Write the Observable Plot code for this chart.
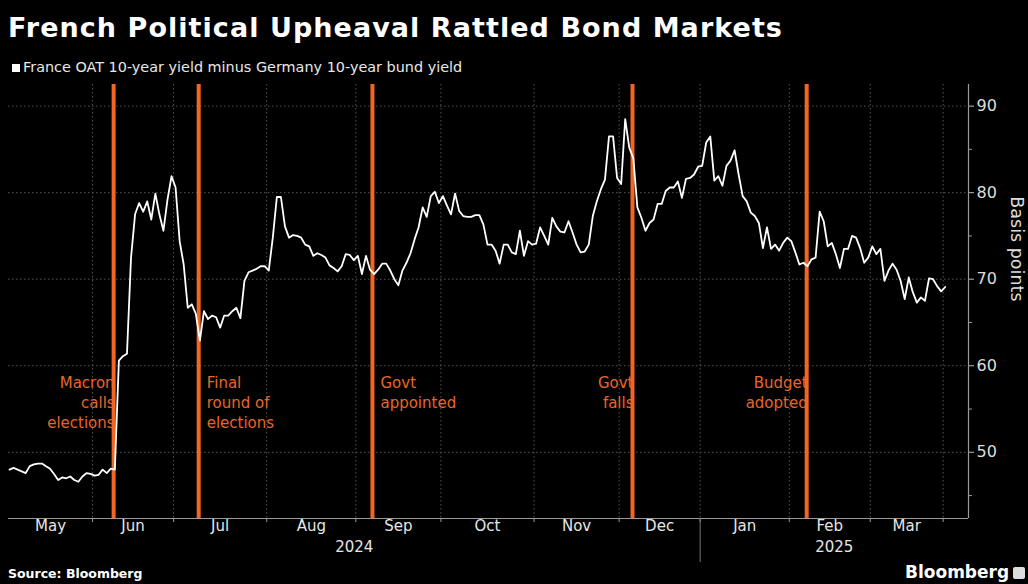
<!DOCTYPE html>
<html>
<head>
<meta charset="utf-8">
<script src="https://cdn.jsdelivr.net/npm/d3@7"></script>
<script src="https://cdn.jsdelivr.net/npm/@observablehq/plot@0.6"></script>
<style>
  html, body { margin: 0; padding: 0; background: #000; }
  body { width: 1028px; height: 584px; overflow: hidden; position: relative; font-family: "DejaVu Sans", sans-serif; color: #fff; }
  #title { position: absolute; left: 8px; top: 14px; font-size: 27px; line-height: 27px; font-weight: bold; letter-spacing: 1.05px; white-space: nowrap; }
  #legend { position: absolute; left: 12px; top: 59px; font-size: 14.4px; line-height: 17px; color: #e8e8e8; white-space: nowrap; }
  #legend .sw { display: inline-block; width: 8px; height: 8px; background: #fff; margin-right: 3px; vertical-align: 0px; }
  #chart { position: absolute; left: 0; top: 80px; }
  #source { position: absolute; left: 8px; top: 566px; font-size: 12.5px; line-height: 16px; font-weight: bold; color: #fff; }
  #logo { position: absolute; left: 905px; top: 562px; font-size: 17px; line-height: 20px; font-weight: bold; color: #fff; white-space: nowrap; }
  #logo .ic { display: inline-block; width: 12px; height: 12px; background: #ddd; border-radius: 2px; margin-left: 4px; vertical-align: -1px; }
</style>
</head>
<body>
<div id="title">French Political Upheaval Rattled Bond Markets</div>
<div id="legend"><span class="sw"></span>France OAT 10-year yield minus Germany 10-year bund yield</div>
<div id="chart"></div>
<div id="source">Source: Bloomberg</div>
<div id="logo">Bloomberg<span class="ic"></span></div>
<script>
// Spread (basis points), one value per trading day, grouped by month
const may24 = [48.0,48.2,48.0,47.8,47.6,48.4,48.6,48.7,48.7,48.4,48.1,47.5,46.8,47.1,47.0,47.2,46.8,46.6,47.2,47.6,47.5];
const jun24 = [47.3,47.4,48.0,47.6,48.1,48.0,60.6,61.1,61.4,72.5,77.5,78.8,77.8,79.0,76.9,79.9,77.5,75.6,79.2,81.9];
const jul24 = [80.6,74.4,71.7,66.7,67.1,66.0,62.9,66.3,65.4,65.8,65.6,64.4,65.8,65.8,66.3,66.7,65.5,69.8,70.8,71.0,71.2,71.5,71.5];
const aug24 = [71.0,74.8,79.5,79.5,76.1,74.8,75.1,75.0,74.8,74.0,73.8,72.7,73.0,72.8,72.5,71.6,71.3,70.9,71.5,72.9,72.8,72.2];
const sep24 = [72.7,70.6,72.7,71.1,70.6,71.1,71.8,71.8,71.0,70.0,69.3,71.0,71.9,73.0,74.6,76.0,78.3,77.2,79.6,80.1,78.8];
const oct24 = [79.6,78.5,77.5,79.9,77.9,77.3,77.2,77.2,77.4,77.4,76.3,74.0,74.0,73.3,71.8,74.0,74.0,73.1,72.9,75.6,72.7,74.4,74.0];
const nov24 = [74.1,76.0,75.0,74.0,77.1,76.1,75.5,75.4,76.7,75.4,74.0,73.1,73.2,74.0,77.3,79.0,80.4,81.5,86.5,86.5,81.7];
const dec24 = [81.0,88.5,85.2,84.0,78.3,77.1,75.6,76.5,76.9,78.7,78.7,80.2,80.6,80.6,81.3,79.4,81.6,81.7,82.1,83.0];
const jan25 = [83.1,85.8,86.5,81.4,81.9,80.8,83.1,83.7,84.9,82.1,79.6,79.0,77.7,77.3,76.5,73.6,76.0,73.5,74.0,73.3,74.2,74.8];
const feb25 = [74.4,73.1,71.7,71.9,71.5,72.3,72.5,77.8,76.7,73.8,74.2,72.9,71.3,73.5,73.5,75.0,74.8,73.6,71.9,72.5];
const mar25 = [73.8,72.9,73.5,69.8,71.0,71.8,71.1,69.8,67.7,70.2,68.5,67.3,67.9,67.5,70.1,70.0,69.2,68.6,69.1];

const monthLabels = ["May","Jun","Jul","Aug","Sep","Oct","Nov","Dec","Jan","Feb","Mar"];
const yearLabels = ["2024","2025"];
const yearFirstMonth = [0, 8];

const yTicks = [50, 60, 70, 80, 90];
const yMinor = [45, 55, 65, 75, 85];

// Events: position in trading days from start
const eventLabels = ["Macron\ncalls\nelections", "Final\nround of\nelections", "Govt\nappointed", "Govt\nfalls", "Budget\nadopted"];
const eventPos = [25.7, 46.7, 89.6, 153.8, 196.8];

const months = [may24, jun24, jul24, aug24, sep24, oct24, nov24, dec24, jan25, feb25, mar25];
const data = [];
const starts = [];
let k = 0;
months.forEach(m => { starts.push(k); m.forEach(v => data.push({i: k++, v})); });
const n = k;
const xDomain = [-0.25, n + 4.75];
const yDomain = [42.35, 92.5];

const bounds = starts.slice(1).map(s => s - 0.5).concat([n - 1.5]);
const edges = [xDomain[0], ...bounds];
const monthCenters = monthLabels.map((_, j) => (edges[j] + edges[j + 1]) / 2);
const yearEdges = [xDomain[0], starts[yearFirstMonth[1]] - 0.5, xDomain[1]];
const yearCenters = yearLabels.map((_, j) => (yearEdges[j] + yearEdges[j + 1]) / 2);

const ORANGE = "#f26522";
const ORANGE_TXT = "#e8662a";
const endSide = [0, 3, 4];
const startSide = [1, 2];

const chart = Plot.plot({
  width: 1028,
  height: 482,
  marginTop: 4,
  marginBottom: 44,
  marginLeft: 8,
  marginRight: 60,
  style: {background: "#000", color: "#ddd", fontFamily: "DejaVu Sans, sans-serif", fontSize: "15px", overflow: "visible"},
  x: {domain: xDomain, axis: null},
  y: {domain: yDomain, axis: null},
  marks: [
    Plot.ruleY(yTicks, {stroke: "#555", strokeDasharray: "1.5,2.5"}),
    Plot.ruleX(bounds, {stroke: "#555", strokeDasharray: "1.5,2.5"}),
    Plot.ruleX([xDomain[1]], {stroke: "#9a9a9a", strokeWidth: 1.2}),
    Plot.ruleY([yDomain[0]], {stroke: "#9a9a9a", strokeWidth: 1.2}),
    Plot.axisY({anchor: "right", ticks: yTicks, tickSize: 5, tickPadding: 3, fontSize: 16, color: "#ddd", stroke: "#bbb", label: null}),
    Plot.axisY({anchor: "right", ticks: yMinor, tickSize: 3, tickFormat: () => "", stroke: "#999", label: null}),
    Plot.axisX({ticks: bounds, tickSize: 4, tickFormat: () => "", stroke: "#999", label: null}),
    Plot.axisX({ticks: [yearEdges[1]], tickSize: 44, tickFormat: () => "", stroke: "#777", label: null}),
    Plot.text(monthLabels, {x: (d, j) => monthCenters[j], text: d => d, frameAnchor: "bottom", dy: 12, fill: "#e6e6e6", fontSize: 15}),
    Plot.text(yearLabels, {x: (d, j) => yearCenters[j], text: d => d, frameAnchor: "bottom", dy: 33, fill: "#e6e6e6", fontSize: 15}),
    Plot.text(["Basis points"], {frameAnchor: "right", dx: 48, rotate: 90, fill: "#dcdcdc", fontSize: 17.5}),
    Plot.text(endSide, {x: i => eventPos[i], text: i => eventLabels[i], frameAnchor: "top", dy: 289, lineAnchor: "top", textAnchor: "end", dx: 1, lineHeight: 1.33, fill: ORANGE_TXT, fontSize: 15}),
    Plot.text(startSide, {x: i => eventPos[i], text: i => eventLabels[i], frameAnchor: "top", dy: 289, lineAnchor: "top", textAnchor: "start", dx: 8, lineHeight: 1.33, fill: ORANGE_TXT, fontSize: 15}),
    Plot.ruleX(eventPos, {stroke: ORANGE, strokeWidth: 4}),
    Plot.line(data, {x: "i", y: "v", stroke: "#fff", strokeWidth: 1.8})
  ]
});
document.getElementById("chart").appendChild(chart);
</script>
</body>
</html>
